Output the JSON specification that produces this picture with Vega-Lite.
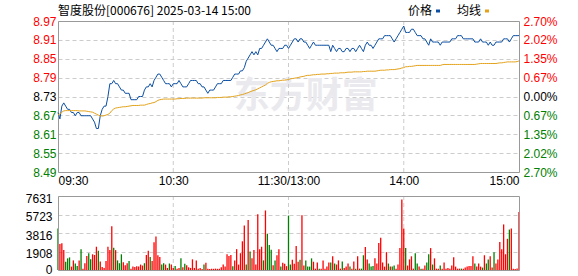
{
"$schema": "https://vega.github.io/schema/vega-lite/v6.json",
"width": 461,
"height": 249,
"autosize": {"type": "none"},
"padding": {"left": 58, "top": 21, "right": 59, "bottom": 6},
"background": "#ffffff",
"config": {"view": {"stroke": null}, "axis": {"labelFont": "Liberation Sans", "labelFontSize": 12, "labelColor": "#000000"}},
"title": {"text": "智度股份[000676] 2025-03-14 15:00", "anchor": "start", "frame": "group", "font": "Noto Sans CJK SC", "fontSize": 12, "fontWeight": "normal", "color": "#000000", "baseline": "bottom", "offset": -25},
"data": {"values": [
{"t":"09:30","p":8.68,"a":8.672,"v":4270,"d":0},
{"t":"09:31","p":8.66,"a":8.676,"v":2680,"d":1},
{"t":"09:32","p":8.70,"a":8.681,"v":2750,"d":1},
{"t":"09:33","p":8.71,"a":8.685,"v":2050,"d":1},
{"t":"09:34","p":8.70,"a":8.686,"v":850,"d":0},
{"t":"09:35","p":8.69,"a":8.686,"v":1200,"d":0},
{"t":"09:36","p":8.69,"a":8.686,"v":1300,"d":0},
{"t":"09:37","p":8.68,"a":8.686,"v":350,"d":1},
{"t":"09:38","p":8.68,"a":8.686,"v":990,"d":1},
{"t":"09:39","p":8.67,"a":8.686,"v":670,"d":0},
{"t":"09:40","p":8.68,"a":8.686,"v":420,"d":0},
{"t":"09:41","p":8.68,"a":8.685,"v":990,"d":1},
{"t":"09:42","p":8.67,"a":8.685,"v":2150,"d":0},
{"t":"09:43","p":8.67,"a":8.685,"v":140,"d":1},
{"t":"09:44","p":8.67,"a":8.685,"v":700,"d":1},
{"t":"09:45","p":8.67,"a":8.684,"v":1450,"d":1},
{"t":"09:46","p":8.67,"a":8.683,"v":1730,"d":0},
{"t":"09:47","p":8.67,"a":8.682,"v":1100,"d":0},
{"t":"09:48","p":8.66,"a":8.681,"v":1620,"d":1},
{"t":"09:49","p":8.65,"a":8.678,"v":1550,"d":1},
{"t":"09:50","p":8.63,"a":8.675,"v":2400,"d":1},
{"t":"09:51","p":8.63,"a":8.672,"v":1980,"d":0},
{"t":"09:52","p":8.67,"a":8.670,"v":880,"d":1},
{"t":"09:53","p":8.69,"a":8.669,"v":320,"d":1},
{"t":"09:54","p":8.70,"a":8.670,"v":210,"d":1},
{"t":"09:55","p":8.70,"a":8.672,"v":920,"d":1},
{"t":"09:56","p":8.73,"a":8.674,"v":2400,"d":1},
{"t":"09:57","p":8.77,"a":8.678,"v":2050,"d":1},
{"t":"09:58","p":8.77,"a":8.686,"v":4520,"d":1},
{"t":"09:59","p":8.78,"a":8.691,"v":2300,"d":0},
{"t":"10:00","p":8.77,"a":8.694,"v":2050,"d":1},
{"t":"10:01","p":8.77,"a":8.695,"v":990,"d":0},
{"t":"10:02","p":8.76,"a":8.696,"v":700,"d":0},
{"t":"10:03","p":8.75,"a":8.697,"v":1620,"d":0},
{"t":"10:04","p":8.75,"a":8.698,"v":810,"d":1},
{"t":"10:05","p":8.74,"a":8.698,"v":490,"d":1},
{"t":"10:06","p":8.74,"a":8.699,"v":700,"d":1},
{"t":"10:07","p":8.74,"a":8.700,"v":920,"d":0},
{"t":"10:08","p":8.72,"a":8.701,"v":140,"d":1},
{"t":"10:09","p":8.72,"a":8.702,"v":350,"d":1},
{"t":"10:10","p":8.72,"a":8.702,"v":320,"d":1},
{"t":"10:11","p":8.72,"a":8.702,"v":390,"d":1},
{"t":"10:12","p":8.73,"a":8.702,"v":350,"d":1},
{"t":"10:13","p":8.73,"a":8.703,"v":560,"d":1},
{"t":"10:14","p":8.73,"a":8.703,"v":460,"d":1},
{"t":"10:15","p":8.75,"a":8.703,"v":700,"d":0},
{"t":"10:16","p":8.76,"a":8.705,"v":1550,"d":1},
{"t":"10:17","p":8.76,"a":8.707,"v":1980,"d":1},
{"t":"10:18","p":8.77,"a":8.708,"v":1340,"d":0},
{"t":"10:19","p":8.76,"a":8.710,"v":920,"d":1},
{"t":"10:20","p":8.78,"a":8.711,"v":2860,"d":1},
{"t":"10:21","p":8.79,"a":8.714,"v":3460,"d":1},
{"t":"10:22","p":8.80,"a":8.718,"v":1520,"d":1},
{"t":"10:23","p":8.80,"a":8.720,"v":1340,"d":1},
{"t":"10:24","p":8.79,"a":8.721,"v":560,"d":0},
{"t":"10:25","p":8.78,"a":8.722,"v":700,"d":0},
{"t":"10:26","p":8.77,"a":8.722,"v":560,"d":1},
{"t":"10:27","p":8.77,"a":8.722,"v":210,"d":1},
{"t":"10:28","p":8.77,"a":8.722,"v":670,"d":0},
{"t":"10:29","p":8.76,"a":8.722,"v":560,"d":1},
{"t":"10:30","p":8.77,"a":8.722,"v":210,"d":1},
{"t":"10:31","p":8.77,"a":8.722,"v":420,"d":0},
{"t":"10:32","p":8.77,"a":8.723,"v":140,"d":1},
{"t":"10:33","p":8.78,"a":8.723,"v":210,"d":1},
{"t":"10:34","p":8.77,"a":8.724,"v":1200,"d":0},
{"t":"10:35","p":8.76,"a":8.724,"v":280,"d":1},
{"t":"10:36","p":8.76,"a":8.724,"v":640,"d":0},
{"t":"10:37","p":8.76,"a":8.725,"v":490,"d":1},
{"t":"10:38","p":8.77,"a":8.725,"v":280,"d":1},
{"t":"10:39","p":8.78,"a":8.725,"v":210,"d":1},
{"t":"10:40","p":8.78,"a":8.725,"v":1100,"d":1},
{"t":"10:41","p":8.78,"a":8.725,"v":210,"d":1},
{"t":"10:42","p":8.78,"a":8.725,"v":990,"d":1},
{"t":"10:43","p":8.77,"a":8.725,"v":140,"d":1},
{"t":"10:44","p":8.77,"a":8.725,"v":210,"d":1},
{"t":"10:45","p":8.76,"a":8.725,"v":100,"d":1},
{"t":"10:46","p":8.76,"a":8.726,"v":560,"d":0},
{"t":"10:47","p":8.75,"a":8.726,"v":740,"d":1},
{"t":"10:48","p":8.74,"a":8.726,"v":140,"d":1},
{"t":"10:49","p":8.75,"a":8.726,"v":100,"d":1},
{"t":"10:50","p":8.75,"a":8.726,"v":140,"d":1},
{"t":"10:51","p":8.75,"a":8.726,"v":120,"d":1},
{"t":"10:52","p":8.76,"a":8.726,"v":140,"d":1},
{"t":"10:53","p":8.77,"a":8.727,"v":120,"d":1},
{"t":"10:54","p":8.77,"a":8.727,"v":140,"d":1},
{"t":"10:55","p":8.77,"a":8.727,"v":280,"d":1},
{"t":"10:56","p":8.78,"a":8.728,"v":560,"d":1},
{"t":"10:57","p":8.78,"a":8.728,"v":350,"d":1},
{"t":"10:58","p":8.78,"a":8.728,"v":1620,"d":1},
{"t":"10:59","p":8.78,"a":8.729,"v":1450,"d":1},
{"t":"11:00","p":8.78,"a":8.729,"v":1550,"d":1},
{"t":"11:01","p":8.79,"a":8.730,"v":390,"d":0},
{"t":"11:02","p":8.80,"a":8.731,"v":990,"d":1},
{"t":"11:03","p":8.80,"a":8.732,"v":2150,"d":1},
{"t":"11:04","p":8.80,"a":8.733,"v":560,"d":1},
{"t":"11:05","p":8.81,"a":8.735,"v":1730,"d":1},
{"t":"11:06","p":8.81,"a":8.736,"v":2960,"d":1},
{"t":"11:07","p":8.82,"a":8.738,"v":4590,"d":1},
{"t":"11:08","p":8.84,"a":8.740,"v":560,"d":0},
{"t":"11:09","p":8.85,"a":8.742,"v":5150,"d":1},
{"t":"11:10","p":8.86,"a":8.745,"v":1910,"d":0},
{"t":"11:11","p":8.87,"a":8.747,"v":1200,"d":1},
{"t":"11:12","p":8.86,"a":8.749,"v":2050,"d":1},
{"t":"11:13","p":8.87,"a":8.751,"v":560,"d":1},
{"t":"11:14","p":8.86,"a":8.754,"v":5750,"d":1},
{"t":"11:15","p":8.88,"a":8.757,"v":2150,"d":1},
{"t":"11:16","p":8.88,"a":8.760,"v":2400,"d":1},
{"t":"11:17","p":8.89,"a":8.763,"v":990,"d":0},
{"t":"11:18","p":8.90,"a":8.766,"v":6140,"d":1},
{"t":"11:19","p":8.91,"a":8.771,"v":3740,"d":0},
{"t":"11:20","p":8.90,"a":8.774,"v":2580,"d":0},
{"t":"11:21","p":8.89,"a":8.776,"v":2080,"d":0},
{"t":"11:22","p":8.89,"a":8.777,"v":490,"d":1},
{"t":"11:23","p":8.88,"a":8.778,"v":990,"d":0},
{"t":"11:24","p":8.87,"a":8.779,"v":1520,"d":1},
{"t":"11:25","p":8.88,"a":8.779,"v":2150,"d":1},
{"t":"11:26","p":8.88,"a":8.780,"v":350,"d":0},
{"t":"11:27","p":8.88,"a":8.781,"v":740,"d":1},
{"t":"11:28","p":8.89,"a":8.781,"v":640,"d":1},
{"t":"11:29","p":8.89,"a":8.782,"v":400,"d":1},
{"t":"11:30","p":8.88,"a":8.783,"v":5610,"d":0},
{"t":"13:01","p":8.89,"a":8.785,"v":565,"d":0},
{"t":"13:02","p":8.90,"a":8.786,"v":1060,"d":1},
{"t":"13:03","p":8.91,"a":8.787,"v":636,"d":1},
{"t":"13:04","p":8.91,"a":8.788,"v":2470,"d":1},
{"t":"13:05","p":8.90,"a":8.789,"v":848,"d":1},
{"t":"13:06","p":8.91,"a":8.791,"v":1060,"d":0},
{"t":"13:07","p":8.91,"a":8.792,"v":5650,"d":1},
{"t":"13:08","p":8.90,"a":8.793,"v":460,"d":1},
{"t":"13:09","p":8.90,"a":8.795,"v":990,"d":0},
{"t":"13:10","p":8.89,"a":8.796,"v":350,"d":0},
{"t":"13:11","p":8.88,"a":8.796,"v":350,"d":0},
{"t":"13:12","p":8.89,"a":8.797,"v":1200,"d":0},
{"t":"13:13","p":8.90,"a":8.798,"v":848,"d":1},
{"t":"13:14","p":8.89,"a":8.798,"v":141,"d":1},
{"t":"13:15","p":8.89,"a":8.799,"v":777,"d":1},
{"t":"13:16","p":8.89,"a":8.799,"v":141,"d":0},
{"t":"13:17","p":8.89,"a":8.800,"v":141,"d":1},
{"t":"13:18","p":8.89,"a":8.800,"v":990,"d":1},
{"t":"13:19","p":8.89,"a":8.800,"v":141,"d":1},
{"t":"13:20","p":8.89,"a":8.801,"v":350,"d":1},
{"t":"13:21","p":8.89,"a":8.801,"v":777,"d":1},
{"t":"13:22","p":8.87,"a":8.802,"v":777,"d":0},
{"t":"13:23","p":8.89,"a":8.802,"v":1413,"d":1},
{"t":"13:24","p":8.88,"a":8.803,"v":670,"d":0},
{"t":"13:25","p":8.87,"a":8.803,"v":565,"d":1},
{"t":"13:26","p":8.88,"a":8.803,"v":990,"d":1},
{"t":"13:27","p":8.88,"a":8.804,"v":141,"d":1},
{"t":"13:28","p":8.87,"a":8.804,"v":883,"d":0},
{"t":"13:29","p":8.87,"a":8.804,"v":212,"d":1},
{"t":"13:30","p":8.88,"a":8.805,"v":350,"d":1},
{"t":"13:31","p":8.88,"a":8.806,"v":670,"d":1},
{"t":"13:32","p":8.87,"a":8.806,"v":350,"d":0},
{"t":"13:33","p":8.88,"a":8.806,"v":141,"d":1},
{"t":"13:34","p":8.88,"a":8.807,"v":883,"d":1},
{"t":"13:35","p":8.87,"a":8.807,"v":141,"d":0},
{"t":"13:36","p":8.88,"a":8.807,"v":1413,"d":1},
{"t":"13:37","p":8.89,"a":8.807,"v":141,"d":1},
{"t":"13:38","p":8.88,"a":8.807,"v":141,"d":0},
{"t":"13:39","p":8.87,"a":8.808,"v":1520,"d":0},
{"t":"13:40","p":8.89,"a":8.808,"v":2370,"d":1},
{"t":"13:41","p":8.90,"a":8.809,"v":1095,"d":1},
{"t":"13:42","p":8.89,"a":8.809,"v":670,"d":0},
{"t":"13:43","p":8.89,"a":8.809,"v":350,"d":0},
{"t":"13:44","p":8.88,"a":8.809,"v":424,"d":0},
{"t":"13:45","p":8.89,"a":8.809,"v":1200,"d":1},
{"t":"13:46","p":8.90,"a":8.810,"v":670,"d":1},
{"t":"13:47","p":8.91,"a":8.811,"v":2790,"d":1},
{"t":"13:48","p":8.91,"a":8.812,"v":3320,"d":1},
{"t":"13:49","p":8.91,"a":8.812,"v":777,"d":1},
{"t":"13:50","p":8.92,"a":8.812,"v":350,"d":1},
{"t":"13:51","p":8.92,"a":8.813,"v":1840,"d":1},
{"t":"13:52","p":8.92,"a":8.813,"v":670,"d":0},
{"t":"13:53","p":8.92,"a":8.814,"v":350,"d":1},
{"t":"13:54","p":8.91,"a":8.814,"v":350,"d":0},
{"t":"13:55","p":8.90,"a":8.814,"v":460,"d":0},
{"t":"13:56","p":8.91,"a":8.815,"v":141,"d":1},
{"t":"13:57","p":8.92,"a":8.816,"v":565,"d":1},
{"t":"13:58","p":8.93,"a":8.817,"v":2260,"d":1},
{"t":"13:59","p":8.94,"a":8.819,"v":7280,"d":1},
{"t":"14:00","p":8.95,"a":8.820,"v":4275,"d":1},
{"t":"14:01","p":8.93,"a":8.823,"v":2260,"d":0},
{"t":"14:02","p":8.93,"a":8.823,"v":460,"d":1},
{"t":"14:03","p":8.93,"a":8.824,"v":1095,"d":1},
{"t":"14:04","p":8.94,"a":8.824,"v":1413,"d":1},
{"t":"14:05","p":8.94,"a":8.825,"v":141,"d":1},
{"t":"14:06","p":8.93,"a":8.826,"v":1730,"d":0},
{"t":"14:07","p":8.92,"a":8.827,"v":670,"d":0},
{"t":"14:08","p":8.92,"a":8.827,"v":350,"d":1},
{"t":"14:09","p":8.92,"a":8.827,"v":141,"d":0},
{"t":"14:10","p":8.91,"a":8.827,"v":141,"d":1},
{"t":"14:11","p":8.91,"a":8.827,"v":460,"d":1},
{"t":"14:12","p":8.90,"a":8.827,"v":777,"d":0},
{"t":"14:13","p":8.89,"a":8.827,"v":1625,"d":0},
{"t":"14:14","p":8.91,"a":8.827,"v":2260,"d":1},
{"t":"14:15","p":8.90,"a":8.827,"v":565,"d":0},
{"t":"14:16","p":8.90,"a":8.827,"v":1200,"d":1},
{"t":"14:17","p":8.90,"a":8.827,"v":141,"d":1},
{"t":"14:18","p":8.90,"a":8.827,"v":141,"d":1},
{"t":"14:19","p":8.89,"a":8.827,"v":460,"d":0},
{"t":"14:20","p":8.90,"a":8.829,"v":141,"d":1},
{"t":"14:21","p":8.90,"a":8.830,"v":777,"d":1},
{"t":"14:22","p":8.90,"a":8.830,"v":141,"d":1},
{"t":"14:23","p":8.90,"a":8.830,"v":212,"d":1},
{"t":"14:24","p":8.90,"a":8.830,"v":141,"d":1},
{"t":"14:25","p":8.91,"a":8.830,"v":460,"d":1},
{"t":"14:26","p":8.91,"a":8.830,"v":1307,"d":1},
{"t":"14:27","p":8.91,"a":8.830,"v":350,"d":1},
{"t":"14:28","p":8.92,"a":8.830,"v":141,"d":1},
{"t":"14:29","p":8.92,"a":8.830,"v":141,"d":1},
{"t":"14:30","p":8.92,"a":8.830,"v":141,"d":0},
{"t":"14:31","p":8.91,"a":8.830,"v":141,"d":1},
{"t":"14:32","p":8.91,"a":8.830,"v":247,"d":1},
{"t":"14:33","p":8.91,"a":8.830,"v":350,"d":1},
{"t":"14:34","p":8.91,"a":8.830,"v":424,"d":1},
{"t":"14:35","p":8.91,"a":8.830,"v":424,"d":1},
{"t":"14:36","p":8.91,"a":8.830,"v":1413,"d":1},
{"t":"14:37","p":8.90,"a":8.830,"v":670,"d":0},
{"t":"14:38","p":8.90,"a":8.831,"v":350,"d":1},
{"t":"14:39","p":8.90,"a":8.832,"v":670,"d":1},
{"t":"14:40","p":8.91,"a":8.833,"v":350,"d":1},
{"t":"14:41","p":8.90,"a":8.833,"v":247,"d":0},
{"t":"14:42","p":8.90,"a":8.833,"v":1520,"d":1},
{"t":"14:43","p":8.90,"a":8.833,"v":670,"d":0},
{"t":"14:44","p":8.89,"a":8.833,"v":1095,"d":0},
{"t":"14:45","p":8.90,"a":8.833,"v":1413,"d":1},
{"t":"14:46","p":8.89,"a":8.833,"v":247,"d":1},
{"t":"14:47","p":8.89,"a":8.833,"v":1840,"d":0},
{"t":"14:48","p":8.90,"a":8.833,"v":670,"d":1},
{"t":"14:49","p":8.90,"a":8.834,"v":1095,"d":1},
{"t":"14:50","p":8.90,"a":8.835,"v":2900,"d":1},
{"t":"14:51","p":8.90,"a":8.835,"v":2150,"d":1},
{"t":"14:52","p":8.91,"a":8.836,"v":4700,"d":1},
{"t":"14:53","p":8.91,"a":8.837,"v":1625,"d":1},
{"t":"14:54","p":8.91,"a":8.838,"v":3215,"d":1},
{"t":"14:55","p":8.90,"a":8.838,"v":4170,"d":0},
{"t":"14:56","p":8.91,"a":8.838,"v":4275,"d":1},
{"t":"14:57","p":8.92,"a":8.838,"v":141,"d":1},
{"t":"14:58","p":8.92,"a":8.838,"v":100,"d":1},
{"t":"14:59","p":8.92,"a":8.839,"v":150,"d":1},
{"t":"15:00","p":8.92,"a":8.841,"v":5970,"d":1}
]},
"encoding": {
  "x": {"field": "t", "type": "ordinal", "scale": {"type": "point", "padding": 0},
    "axis": {"values": ["09:30","10:30","11:30","14:00","15:00"], "labelExpr": "datum.value == '11:30' ? '11:30/13:00' : datum.value", "labelFlush": true, "labelAngle": 0, "labelOverlap": false, "labelBound": false, "title": null, "domain": false, "ticks": false, "grid": false, "offset": -98, "labelPadding": 3, "labelBaseline": "top"}}
},
"layer": [
  {
    "layer": [
      {"data": {"values": [{"w": "东方财富"}]},
       "mark": {"type": "text", "font": "Noto Sans CJK SC", "fontSize": 36, "fontWeight": "bold", "color": "#eaeaee", "align": "center", "baseline": "middle"},
       "encoding": {"x": {"datum": "13:09", "type": "ordinal"}, "y": {"datum": 8.73, "type": "quantitative", "axis": null}, "text": {"field": "w"}}},
      {"transform": [{"filter": "datum.t == '10:30' || datum.t == '11:30' || datum.t == '14:00'"}],
       "mark": {"type": "rule", "color": "#cccccc", "strokeDash": [4, 3], "strokeWidth": 1},
       "encoding": {"y": {"datum": 8.4943, "type": "quantitative", "axis": null}, "y2": {"datum": 8.9657}}},
      {"transform": [{"filter": "datum.t == '09:30'"}],
       "mark": {"type": "rect", "fill": "transparent", "stroke": "#999999", "strokeWidth": 1, "xOffset": 0.5, "x2Offset": 0.5, "yOffset": 0.5, "y2Offset": 0.5},
       "encoding": {"x2": {"datum": "15:00"}, "y": {"datum": 8.4943, "type": "quantitative", "axis": null}, "y2": {"datum": 8.9657}}},
      {"mark": {"type": "line", "strokeWidth": 1},
       "encoding": {
         "y": {"field": "p", "type": "quantitative",
           "scale": {"domain": [8.4943, 8.9657], "range": [151, 0], "zero": false, "nice": false},
           "axis": {"orient": "left", "values": [8.4943, 8.5532, 8.6121, 8.6711, 8.73, 8.7889, 8.8479, 8.9068, 8.9657], "format": ".2f", "title": null, "domain": false, "ticks": false, "labelPadding": 2, "grid": true, "gridColor": "#cccccc", "gridDash": [4, 3],
             "labelColor": {"condition": [{"test": "datum.value > 8.731", "value": "#ff0000"}, {"test": "datum.value < 8.729", "value": "#008000"}], "value": "#000000"}}},
         "color": {"datum": "价格", "scale": {"domain": ["价格", "均线"], "range": ["#0b4ea2", "#e3a21a"]},
           "legend": {"orient": "none", "legendX": 374, "legendY": -16, "direction": "horizontal", "title": null, "symbolType": "stroke", "symbolSize": 16, "symbolStrokeWidth": 3, "labelFont": "Noto Sans CJK SC", "labelFontSize": 12, "labelColor": "#000000", "labelAlign": "right", "labelOffset": -12, "columnPadding": 10, "padding": 0}}
       }},
      {"mark": {"type": "line", "strokeWidth": 1},
       "encoding": {
         "y": {"field": "a", "type": "quantitative",
           "axis": {"orient": "right", "values": [8.4943, 8.5532, 8.6121, 8.6711, 8.73, 8.7889, 8.8479, 8.9068, 8.9657], "labelExpr": "format(floor(abs(datum.value - 8.73) / 8.73 * 10000 + 0.1) / 100, '.2f') + '%'", "title": null, "domain": false, "ticks": false, "labelPadding": 4, "grid": false,
             "labelColor": {"condition": [{"test": "datum.value > 8.731", "value": "#ff0000"}, {"test": "datum.value < 8.729", "value": "#008000"}], "value": "#000000"}}},
         "color": {"datum": "均线"}
       }}
    ],
    "resolve": {"axis": {"y": "independent"}}
  },
  {
    "layer": [
      {"transform": [{"filter": "datum.t == '10:30' || datum.t == '11:30' || datum.t == '14:00'"}],
       "mark": {"type": "rule", "color": "#cccccc", "strokeDash": [4, 3], "strokeWidth": 1},
       "encoding": {"y": {"datum": 0, "type": "quantitative", "axis": null}, "y2": {"datum": 7631}}},
      {"mark": {"type": "bar", "width": 1.3},
       "encoding": {
         "y": {"field": "v", "type": "quantitative",
           "scale": {"domain": [0, 7631], "range": [249, 175], "nice": false},
           "axis": {"orient": "left", "values": [0, 1907.75, 3815.5, 5723.25, 7631], "format": ".0f", "title": null, "domain": false, "ticks": false, "labelPadding": 6, "labelOffset": {"condition": {"test": "datum.value == 0", "value": -1}, "value": 2}, "grid": true, "gridColor": "#cccccc", "gridDash": [4, 3], "labelColor": "#000000"}},
         "color": {"condition": {"test": "datum.d == 1", "value": "#ff0000"}, "value": "#008000"}
       }},
      {"transform": [{"filter": "datum.t == '09:30'"}],
       "mark": {"type": "rect", "fill": "transparent", "stroke": "#999999", "strokeWidth": 1, "xOffset": 0.5, "x2Offset": 0.5, "yOffset": 0.5, "y2Offset": 0.5},
       "encoding": {"x2": {"datum": "15:00"}, "y": {"datum": 0, "type": "quantitative", "axis": null}, "y2": {"datum": 7631}}}
    ],
    "resolve": {"axis": {"y": "independent"}}
  }
],
"resolve": {"scale": {"y": "independent"}}
}
